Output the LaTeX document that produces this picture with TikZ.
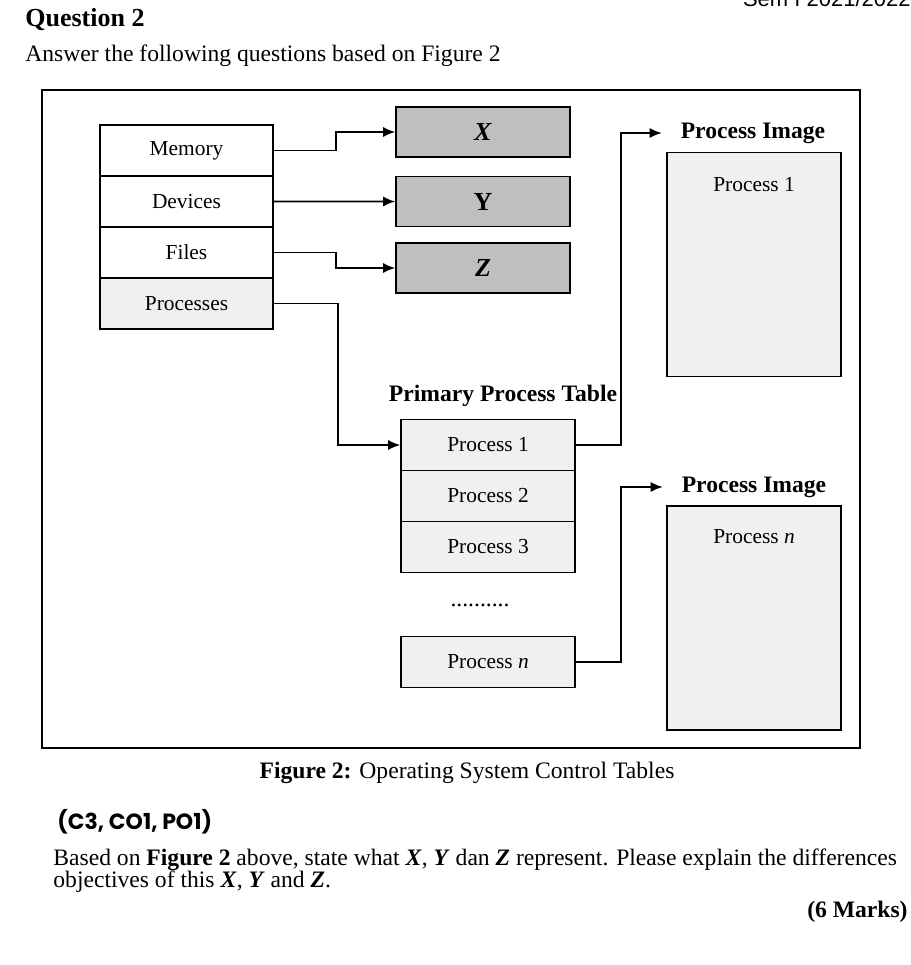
\documentclass[tikz,border=0pt]{standalone}
\usepackage{fontspec}
\setmainfont{Liberation Serif}
\newfontfamily\headfont{Liberation Sans}
\newfontfamily\codefont{Poppins}
\usetikzlibrary{positioning,arrows.meta}

\newcommand{\bi}[1]{\textbf{\textit{#1}}}

\tikzset{
  cell/.style={draw, line width=0.8pt, minimum width=86.5pt, minimum height=25.5pt,
    inner sep=0pt, font=\fontsize{10.7}{12}\selectfont},
  tabcell/.style={cell, fill=gray!50, minimum width=87pt, minimum height=25pt,
    font=\fontsize{13}{14}\selectfont},
  proccell/.style={cell, fill=gray!12, minimum width=87pt, minimum height=25.5pt},
  imgbox/.style={draw, line width=0.8pt, fill=gray!12, minimum width=87pt,
    minimum height=112pt, inner sep=0pt},
  title/.style={font=\fontsize{11.8}{13}\selectfont\bfseries},
  link/.style={line width=0.8pt, -{Latex[length=6pt,width=5pt]}},
  txt/.style={inner sep=0pt, font=\fontsize{11.8}{14}\selectfont}
}

\begin{document}
\begin{tikzpicture}[x=0.5pt, y=-0.5pt]
  \useasboundingbox (0,0) rectangle (911,965);

  % header
  \node[txt, anchor=base east, font=\headfont\fontsize{11}{12}\selectfont] (sem) at (911,6) {Sem I 2021/2022};
  \node[txt, anchor=west, font=\fontsize{13}{14}\selectfont\bfseries] (q) at (25,20) {Question 2};
  \node[txt, anchor=west] (intro) at (25,56) {Answer the following questions based on Figure 2};

  % frame
  \draw[line width=0.8pt] (42,90) rectangle (860,748);

  % control tables
  \node[cell] (mem) at (186.5,150.5) {Memory};
  \node[cell, below=-0.8pt of mem] (dev) {Devices};
  \node[cell, below=-0.8pt of dev] (fil) {Files};
  \node[cell, fill=gray!12, below=-0.8pt of fil] (proc) {Processes};

  \node[tabcell] (X) at (483,132) {\bi{X}};
  \node[tabcell] (Y) at (483,201.5) {\textbf{Y}};
  \node[tabcell] (Z) at (483,268) {\bi{Z}};

  % primary process table
  \node[title] (ppt) at (503,396) {Primary Process Table};
  \node[proccell] (p1) at (488,445) {Process 1};
  \node[proccell, below=-0.8pt of p1] (p2) {Process 2};
  \node[proccell, below=-0.8pt of p2] (p3) {Process 3};
  \node[txt] (dots) at (480,605) {..........};
  \node[proccell] (pn) at (488,662) {Process \textit{n}};

  % process images
  \node[title] (img1lab) at (753,133) {Process Image};
  \node[imgbox] (img1) at (754,264.5) {};
  \node[txt, font=\fontsize{10.7}{12}\selectfont] (img1txt) at (754,185) {Process 1};
  \node[title] (imgnlab) at (754,487) {Process Image};
  \node[imgbox] (imgn) at (754,618) {};
  \node[txt, font=\fontsize{10.7}{12}\selectfont] (imgntxt) at (754,537) {Process \textit{n}};

  % links
  \draw[link] (mem.east) -- ++(62,0) |- (X.west);
  \draw[link] (dev.east) -- (Y.west);
  \draw[link] (fil.east) -- ++(62,0) |- (Z.west);
  \draw[link] (proc.east) -- ++(64,0) |- (p1.west);
  \draw[link] (p1.east) -- ++(45,0) |- ([xshift=-6pt]img1lab.west);
  \draw[link] (pn.east) -- ++(45,0) |- ([xshift=-6pt]imgnlab.west);

  % caption and question
  \node[txt] (cap) at (467,773) {\textbf{Figure 2:} Operating System Control Tables};
  \node[txt, anchor=west, font=\codefont\bfseries\fontsize{11}{13}\selectfont] (co) at (57,822) {(C3, CO1, PO1)};
  \node[txt, anchor=west] (ask1) at (53,860) {Based on \textbf{Figure 2} above, state what \bi{X}, \bi{Y} dan \bi{Z} represent. Please explain the differences};
  \node[txt, anchor=west] (ask2) at (53,882) {objectives of this \bi{X}, \bi{Y} and \bi{Z}.};
  \node[txt, anchor=east] (marks) at (908,912) {\textbf{(6 Marks)}};
\end{tikzpicture}
\end{document}
